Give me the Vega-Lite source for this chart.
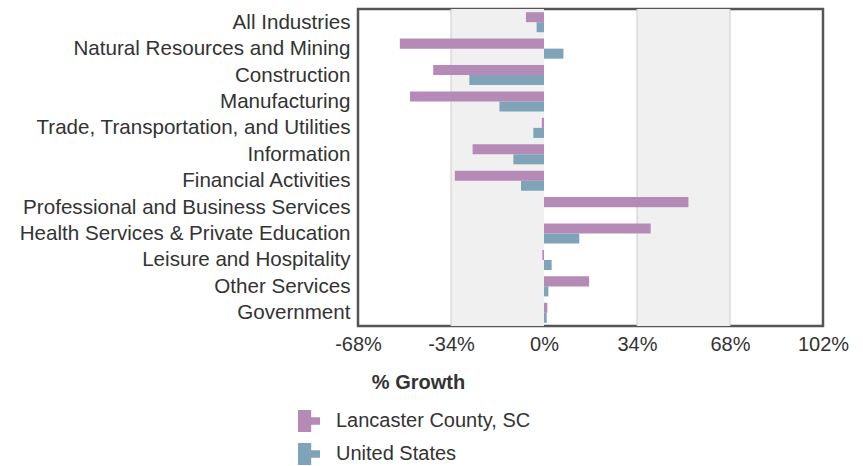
{
  "$schema": "https://vega.github.io/schema/vega-lite/v6.json",
  "autosize": "none",
  "width": 465,
  "height": 317,
  "padding": {"left": 358, "top": 9, "right": 40, "bottom": 140},
  "background": "white",
  "config": {
    "view": {"stroke": "#555555", "strokeWidth": 2.5},
    "font": "Liberation Sans"
  },
  "datasets": {
    "growth": [
      {"industry": "All Industries", "area": "Lancaster County, SC", "growth": -6.6},
      {"industry": "All Industries", "area": "United States", "growth": -2.7},
      {"industry": "Natural Resources and Mining", "area": "Lancaster County, SC", "growth": -52.7},
      {"industry": "Natural Resources and Mining", "area": "United States", "growth": 7.1},
      {"industry": "Construction", "area": "Lancaster County, SC", "growth": -40.5},
      {"industry": "Construction", "area": "United States", "growth": -27.3},
      {"industry": "Manufacturing", "area": "Lancaster County, SC", "growth": -49.0},
      {"industry": "Manufacturing", "area": "United States", "growth": -16.3},
      {"industry": "Trade, Transportation, and Utilities", "area": "Lancaster County, SC", "growth": -0.8},
      {"industry": "Trade, Transportation, and Utilities", "area": "United States", "growth": -3.9},
      {"industry": "Information", "area": "Lancaster County, SC", "growth": -26.1},
      {"industry": "Information", "area": "United States", "growth": -11.2},
      {"industry": "Financial Activities", "area": "Lancaster County, SC", "growth": -32.6},
      {"industry": "Financial Activities", "area": "United States", "growth": -8.4},
      {"industry": "Professional and Business Services", "area": "Lancaster County, SC", "growth": 52.8},
      {"industry": "Professional and Business Services", "area": "United States", "growth": 0},
      {"industry": "Health Services & Private Education", "area": "Lancaster County, SC", "growth": 39.0},
      {"industry": "Health Services & Private Education", "area": "United States", "growth": 12.9},
      {"industry": "Leisure and Hospitality", "area": "Lancaster County, SC", "growth": -0.6},
      {"industry": "Leisure and Hospitality", "area": "United States", "growth": 2.8},
      {"industry": "Other Services", "area": "Lancaster County, SC", "growth": 16.5},
      {"industry": "Other Services", "area": "United States", "growth": 1.6},
      {"industry": "Government", "area": "Lancaster County, SC", "growth": 1.2},
      {"industry": "Government", "area": "United States", "growth": 1.0}
    ],
    "bands": [
      {"from": -34, "to": 0},
      {"from": 34, "to": 68}
    ],
    "grid": [
      {"value": -34},
      {"value": 34},
      {"value": 68}
    ]
  },
  "layer": [
    {
      "data": {"name": "bands"},
      "mark": {"type": "rect", "fill": "#f0f0f0"},
      "encoding": {
        "x": {"field": "from", "type": "quantitative", "scale": {"domain": [-68, 102], "nice": false, "zero": false},
          "axis": {
            "values": [-68, -34, 0, 34, 68, 102],
            "labelExpr": "datum.value + '%'",
            "grid": false, "ticks": false, "domain": false,
            "labelFontSize": 20, "labelColor": "#333333", "labelPadding": 8,
            "labelFlush": false,
            "title": "% Growth", "titleFontSize": 20, "titleFontWeight": "bold", "titleColor": "#333333",
            "titleX": 60, "titleY": 56, "titleAlign": "center", "titleBaseline": "middle"
          }
        },
        "x2": {"field": "to"}
      }
    },
    {
      "data": {"name": "grid"},
      "mark": {"type": "rule", "stroke": "#cccccc", "strokeWidth": 1},
      "encoding": {
        "x": {"field": "value", "type": "quantitative"}
      }
    },
    {
      "data": {"name": "growth"},
      "mark": {"type": "bar"},
      "encoding": {
        "y": {
          "field": "industry", "type": "nominal",
          "sort": ["All Industries", "Natural Resources and Mining", "Construction", "Manufacturing", "Trade, Transportation, and Utilities", "Information", "Financial Activities", "Professional and Business Services", "Health Services & Private Education", "Leisure and Hospitality", "Other Services", "Government"],
          "scale": {"paddingInner": 0.24, "paddingOuter": 0.12},
          "axis": {"title": null, "ticks": false, "domain": false, "labelFontSize": 20.6, "labelColor": "#333333", "labelPadding": 8, "labelLimit": 400, "labelOffset": 0.5}
        },
        "yOffset": {"field": "area", "type": "nominal", "sort": ["Lancaster County, SC", "United States"], "scale": {"paddingInner": 0, "paddingOuter": 0}},
        "x": {"field": "growth", "type": "quantitative"},
        "color": {
          "field": "area", "type": "nominal",
          "sort": ["Lancaster County, SC", "United States"],
          "scale": {"domain": ["Lancaster County, SC", "United States"], "range": ["#b68ab6", "#7fa4b9"]},
          "legend": {
            "title": null, "orient": "none", "legendX": -60, "legendY": 401, "direction": "vertical",
            "symbolType": "M-1,-1H0.2V-0.33H1V0.33H0.2V1H-1Z",
            "symbolSize": 484, "symbolStrokeWidth": 0, "symbolOpacity": 1,
            "labelFontSize": 20, "labelColor": "#333333", "labelOffset": 16, "rowPadding": 11, "labelLimit": 400
          }
        }
      }
    },
    {
      "mark": {"type": "rule", "stroke": "#222222", "strokeWidth": 2},
      "encoding": {"x": {"datum": 0}}
    }
  ]
}
